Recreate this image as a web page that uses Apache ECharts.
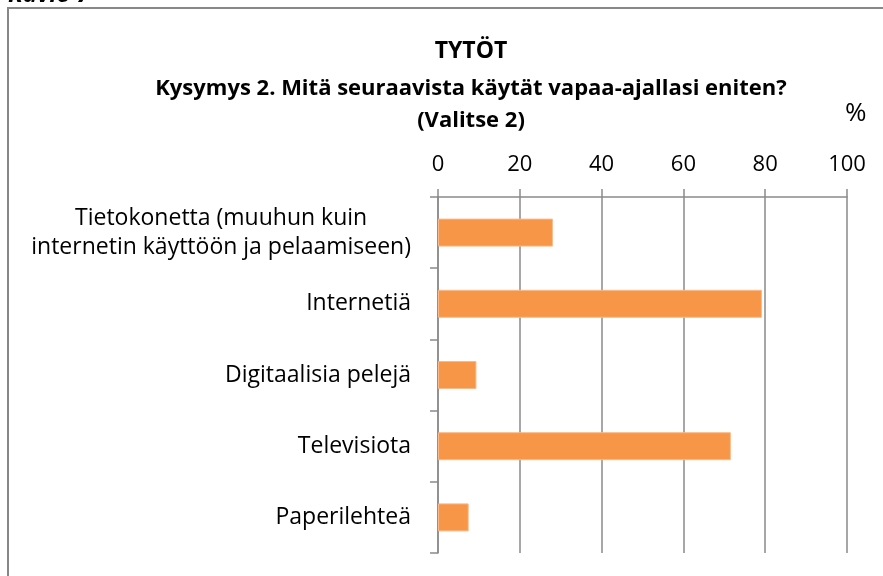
<!DOCTYPE html>
<html>
<head>
<meta charset="utf-8">
<script src="https://cdn.jsdelivr.net/npm/echarts@6/dist/echarts.min.js"></script>
<style>
  html, body { margin: 0; padding: 0; background: #fff; }
  #chart { width: 883px; height: 576px; }
</style>
</head>
<body>
<div id="chart"></div>
<script>
// Data
var categories = [
  'Tietokonetta (muuhun kuin\ninternetin käyttöön ja pelaamiseen)',
  'Internetiä',
  'Digitaalisia pelejä',
  'Televisiota',
  'Paperilehteä'
];
var values = [28.1, 79.2, 9.4, 71.6, 7.5];
var xTicks = [0, 20, 40, 60, 80, 100];

var titleLines = ['TYTÖT', 'Kysymys 2. Mitä seuraavista käytät vapaa-ajallasi eniten?', '(Valitse 2)'];
var unitLabel = '%';
var figureLabel = 'Kuvio 7';

var FONT = 'Open Sans, Liberation Sans, sans-serif';
var GRID_GREY = '#8a8a8a';

var chart = echarts.init(document.getElementById('chart'), null, { renderer: 'canvas' });

var titleStyle = { fontFamily: FONT, fontSize: 22, fontWeight: 'bold', color: '#000' };

var option = {
  backgroundColor: '#fff',
  animation: false,
  title: {
    text: '{a|' + titleLines[0] + '}\n{b|' + titleLines[1] + '}\n{c|' + titleLines[2] + '}',
    left: 466,
    top: 25,
    textAlign: 'center',
    textStyle: {
      fontFamily: FONT, fontSize: 22, fontWeight: 'bold', color: '#000',
      rich: {
        a: Object.assign({ lineHeight: 42 }, titleStyle, { fontSize: 23 }),
        b: Object.assign({ lineHeight: 34 }, titleStyle),
        c: Object.assign({ lineHeight: 30 }, titleStyle)
      }
    }
  },
  graphic: [
    {
      type: 'rect',
      shape: { x: 8, y: 8, width: 1000, height: 700 },
      style: { fill: 'none', stroke: '#888', lineWidth: 2 },
      silent: true
    },
    {
      type: 'text',
      left: 8,
      top: -17,
      style: { text: figureLabel, fontFamily: FONT, fontSize: 24, fontWeight: 'bold', fontStyle: 'italic', fill: '#000' }
    },
    {
      type: 'text',
      left: 845,
      top: 101,
      style: { text: unitLabel, fontFamily: FONT, fontSize: 26, fill: '#000' }
    }
  ],
  grid: { left: 438, right: 36, top: 197, bottom: 23 },
  xAxis: {
    type: 'value',
    position: 'top',
    min: 0,
    max: 100,
    interval: 20,
    axisLine: { show: true, lineStyle: { color: GRID_GREY, width: 1.5 } },
    axisTick: { show: true, length: 8, lineStyle: { color: GRID_GREY, width: 1.5 } },
    axisLabel: {
      margin: 21,
      fontFamily: FONT,
      fontSize: 22,
      color: '#000',
      formatter: function (v) { return xTicks.indexOf(v) >= 0 ? String(v) : ''; }
    },
    splitLine: { show: true, lineStyle: { color: GRID_GREY, width: 1.5 } }
  },
  yAxis: {
    type: 'category',
    inverse: true,
    data: categories,
    axisLine: { show: true, lineStyle: { color: GRID_GREY, width: 1.5 } },
    axisTick: { show: true, length: 8, lineStyle: { color: GRID_GREY, width: 1.5 } },
    axisLabel: {
      margin: 27,
      fontFamily: FONT,
      fontSize: 23,
      color: '#000',
      lineHeight: 29,
      formatter: function (v) {
        return v.split('\n').map(function (s) { return '{c|' + s + '}'; }).join('\n');
      },
      rich: { c: { align: 'center', fontFamily: FONT, fontSize: 23, color: '#000', lineHeight: 29 } }
    },
    splitLine: { show: false }
  },
  series: [{
    type: 'bar',
    data: values,
    barWidth: 28,
    itemStyle: { color: '#F79646', borderColor: '#FAB98A', borderWidth: 1 },
    silent: true
  }]
};

chart.setOption(option);
</script>
</body>
</html>
